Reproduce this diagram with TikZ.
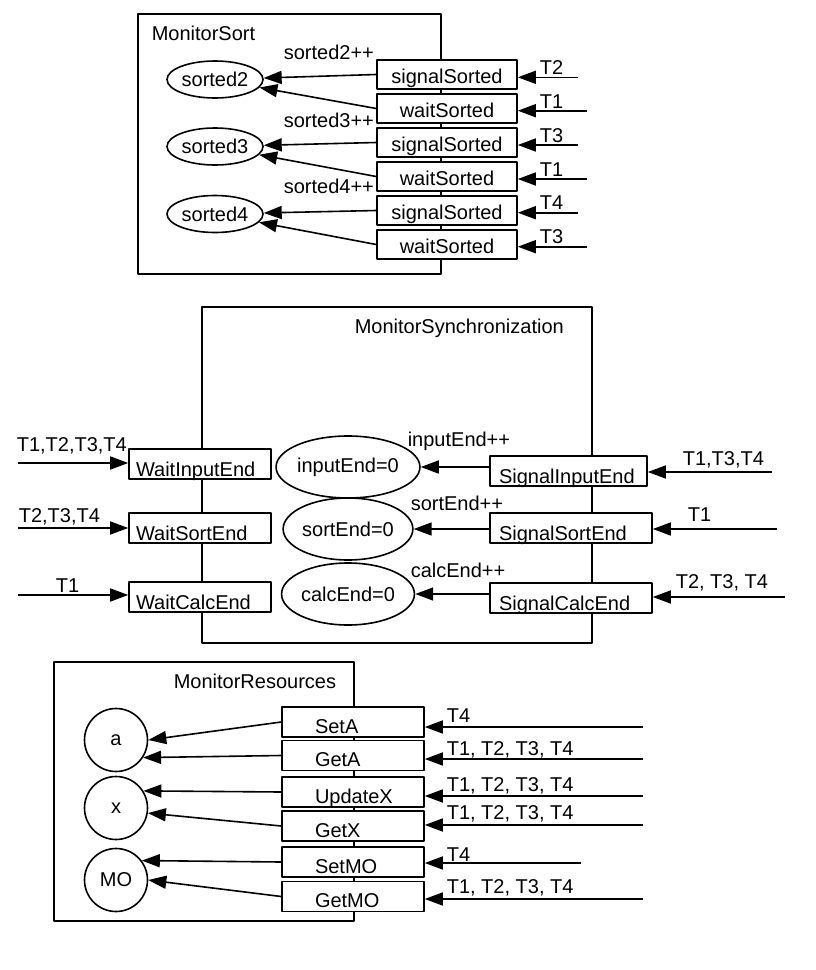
\documentclass[tikz,border=0pt]{standalone}
\usepackage{fontspec}
\setmainfont{Liberation Sans}
\usetikzlibrary{arrows.meta,shapes.geometric}
\begin{document}
\begin{tikzpicture}[x=1pt, y=-1pt, line width=1.6pt, line join=round, >={Triangle[length=18pt,width=13pt]}, font=\fontsize{20pt}{24pt}\selectfont,
		sortbox/.style={draw, fill=white, minimum width=140pt, minimum height=29pt, inner sep=0pt, text height=17pt, text depth=0pt},
		syncbox/.style={draw, fill=white, minimum height=30pt, inner ysep=0pt, text height=24pt, text depth=0pt, align=left},
		resbox/.style={draw, fill=white, minimum width=142pt, minimum height=30pt, inner ysep=0pt, inner xsep=33pt, text width=76pt, align=left, text height=22pt, text depth=0pt},
		sortvar/.style={draw, ellipse, minimum width=96pt, minimum height=37pt, inner sep=0pt},
		endvar/.style={draw, ellipse, minimum width=117pt, minimum height=62pt, inner sep=0pt},
		res/.style={draw, circle, minimum size=63pt, inner sep=0pt},
		lbl/.style={anchor=base west, inner sep=0pt}]
	\useasboundingbox (0,0) rectangle (816,970);
	% MonitorSort
	\draw (138,14) rectangle (441,274);
	\node[lbl] (tsort) at (151,40) {MonitorSort};
	\node[sortvar] (s2) at (215,79.5) {sorted2};
	\node[sortvar] (s3) at (215,146.5) {sorted3};
	\node[sortvar] (s4) at (215,214) {sorted4};
	\node[sortbox] (sig2) at (447,74.5) {signalSorted};
	\node[sortbox] (wait2) at (447,108.5) {waitSorted};
	\node[sortbox] (sig3) at (447,142.5) {signalSorted};
	\node[sortbox] (wait3) at (447,176.5) {waitSorted};
	\node[sortbox] (sig4) at (447,210.5) {signalSorted};
	\node[sortbox] (wait4) at (447,244.5) {waitSorted};
	\node[lbl] (inc2) at (283,59) {sorted2++};
	\node[lbl] (inc3) at (283,127) {sorted3++};
	\node[lbl] (inc4) at (283,193) {sorted4++};
	\draw[->] (sig2.west) -- (s2);
	\draw[->] (wait2.west) -- (s2);
	\draw[->] (sig3.west) -- (s3);
	\draw[->] (wait3.west) -- (s3);
	\draw[->] (sig4.west) -- (s4);
	\draw[->] (wait4.west) -- (s4);
	\coordinate (c1) at (578,77.3); \coordinate (c2) at (587,110.7);
	\coordinate (c3) at (578,145); \coordinate (c4) at (587,179);
	\coordinate (c5) at (578,212.7); \coordinate (c6) at (587,246.7);
	\draw[->] (c1) -- (c1 -| sig2.east);
	\draw[->] (c2) -- (c2 -| wait2.east);
	\draw[->] (c3) -- (c3 -| sig3.east);
	\draw[->] (c4) -- (c4 -| wait3.east);
	\draw[->] (c5) -- (c5 -| sig4.east);
	\draw[->] (c6) -- (c6 -| wait4.east);
	\node[lbl] (tc1) at (539,74) {T2};
	\node[lbl] (tc2) at (539,108) {T1};
	\node[lbl] (tc3) at (539,142) {T3};
	\node[lbl] (tc4) at (539,176) {T1};
	\node[lbl] (tc5) at (539,209) {T4};
	\node[lbl] (tc6) at (539,243) {T3};
	% MonitorSynchronization
	\draw (202,307) rectangle (592,643);
	\node[lbl] (tsync) at (354,333) {MonitorSynchronization};
	\node[syncbox, inner xsep=7pt, text width=128pt] (wie) at (200,464) {WaitInputEnd};
	\node[syncbox, inner xsep=7pt, text width=128pt] (wse) at (200,528) {WaitSortEnd};
	\node[syncbox, inner xsep=7pt, text width=128pt] (wce) at (200,597) {WaitCalcEnd};
	\node[endvar] (ie) at (348,467) {inputEnd=0};
	\node[endvar] (se) at (348,529) {sortEnd=0};
	\node[endvar] (ce) at (348,594) {calcEnd=0};
	\node[syncbox, inner xsep=9pt, text width=139pt] (sie) at (568.5,471) {SignalInputEnd};
	\node[syncbox, inner xsep=9pt, text width=144pt] (sse) at (571,528) {SignalSortEnd};
	\node[syncbox, inner xsep=9pt, text width=144pt] (sce) at (571,598) {SignalCalcEnd};
	\draw[->] (sie.west |- ie) -- (ie);
	\draw[->] (sse.west |- se) -- (se);
	\draw[->] (sce.west |- ce) -- (ce);
	\node[lbl] (iinc) at (407,446) {inputEnd++};
	\node[lbl] (sinc) at (410,510) {sortEnd++};
	\node[lbl] (cinc) at (410,577) {calcEnd++};
	\coordinate (w1) at (18,463); \coordinate (w2) at (18,528); \coordinate (w3) at (18,595);
	\draw[->] (w1) -- (w1 -| wie.west);
	\draw[->] (w2) -- (w2 -| wse.west);
	\draw[->] (w3) -- (w3 -| wce.west);
	\node[lbl] (tw1) at (16,451) {T1,T2,T3,T4};
	\node[lbl] (tw2) at (18,522) {T2,T3,T4};
	\node[lbl] (tw3) at (55,592) {T1};
	\coordinate (r1) at (772,472); \coordinate (r2) at (777,529); \coordinate (r3) at (785,597);
	\draw[->] (r1) -- (r1 -| sie.east);
	\draw[->] (r2) -- (r2 -| sse.east);
	\draw[->] (r3) -- (r3 -| sce.east);
	\node[lbl] (tr1) at (682,465) {T1,T3,T4};
	\node[lbl] (tr2) at (687,521) {T1};
	\node[lbl] (tr3) at (675,588) {T2, T3, T4};
	% MonitorResources
	\draw (54,662) rectangle (354,921);
	\node[lbl] (tres) at (173,688) {MonitorResources};
	\node[res] (a) at (116,740) {a};
	\node[res] (x) at (116,808) {x};
	\node[res] (mo) at (116,880) {MO};
	\node[resbox] (seta) at (353,722) {SetA};
	\node[resbox] (geta) at (353,755.5) {GetA};
	\node[resbox] (updx) at (353,792) {UpdateX};
	\node[resbox] (getx) at (353,826) {GetX};
	\node[resbox] (setmo) at (353,862) {SetMO};
	\node[resbox] (getmo) at (353,896.5) {GetMO};
	\draw[->] (seta.west) -- (a.east);
	\draw[->] (geta.west) -- (a.-33);
	\draw[->] (updx.west) -- (x.32);
	\draw[->] (getx.west) -- (x.-9);
	\draw[->] (setmo.west) -- (mo.37);
	\draw[->] (getmo.west) -- (mo.east);
	\coordinate (b1) at (643,727); \coordinate (b2) at (643,759); \coordinate (b3) at (643,796);
	\coordinate (b4) at (643,825); \coordinate (b5) at (581,863); \coordinate (b6) at (643,899);
	\draw[->] (b1) -- (b1 -| seta.east);
	\draw[->] (b2) -- (b2 -| geta.east);
	\draw[->] (b3) -- (b3 -| updx.east);
	\draw[->] (b4) -- (b4 -| getx.east);
	\draw[->] (b5) -- (b5 -| setmo.east);
	\draw[->] (b6) -- (b6 -| getmo.east);
	\node[lbl] (tb1) at (446,722) {T4};
	\node[lbl] (tb2) at (446,755) {T1, T2, T3, T4};
	\node[lbl] (tb3) at (446,791) {T1, T2, T3, T4};
	\node[lbl] (tb4) at (446,819) {T1, T2, T3, T4};
	\node[lbl] (tb5) at (446,861) {T4};
	\node[lbl] (tb6) at (446,893) {T1, T2, T3, T4};
\end{tikzpicture}
\end{document}
